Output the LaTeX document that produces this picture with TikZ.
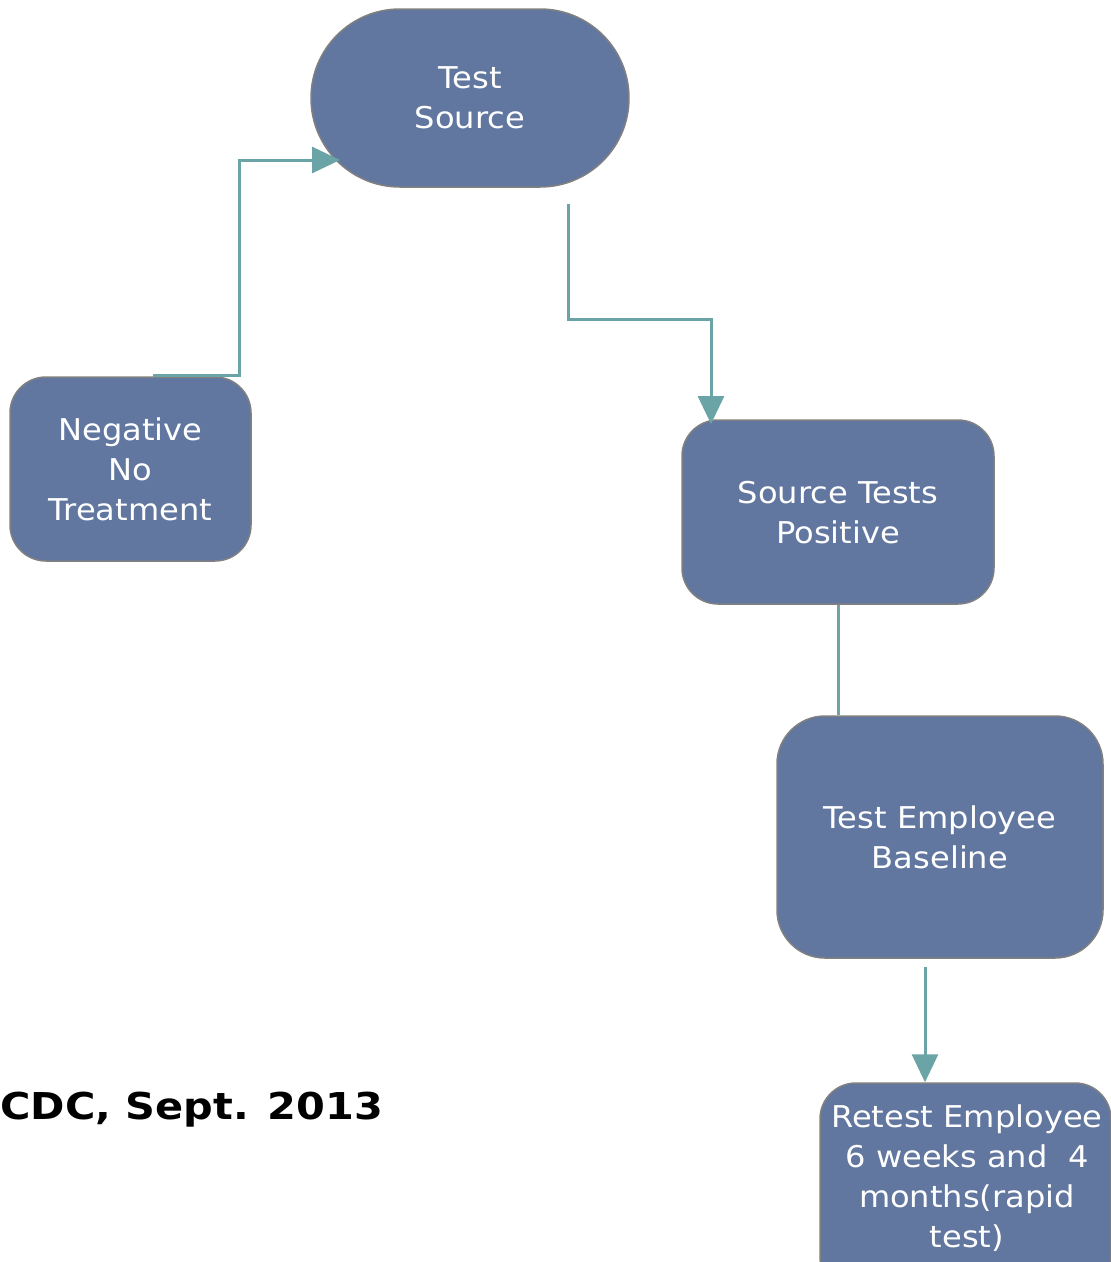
\documentclass[tikz,border=0pt]{standalone}
\usepackage{fontspec}
\setmainfont{DejaVu Sans}[FakeStretch=1.07]
\newfontfamily\cdcfont{DejaVu Sans Bold}[FakeStretch=1.12]
\usetikzlibrary{arrows.meta}
\definecolor{boxfill}{HTML}{6177A0}
\definecolor{boxline}{HTML}{808080}
\definecolor{conn}{HTML}{6AA4A6}
\tikzset{
  flowbox/.style={draw=boxline, line width=1.5pt, fill=boxfill, text=white,
    align=center, font=\fontsize{30}{40}\selectfont, inner sep=0pt},
  boxtext/.style={text=white, align=center, font=\fontsize{30}{40}\selectfont, inner sep=0pt},
  link/.style={draw=conn, line width=3pt},
  linkarrow/.style={link, -{Triangle[length=28pt,width=26pt]}},
}
\begin{document}
\begin{tikzpicture}[x=1pt,y=-1pt]
\useasboundingbox (0,0) rectangle (1111,1262);
\begin{scope}
\clip (0,0) rectangle (1111,1262);
% boxes
\node[flowbox, rounded corners=89pt, minimum width=318pt, minimum height=178pt, text depth=-2pt] (src) at (470,98) {Test\\Source};
\node[flowbox, rounded corners=36pt, minimum width=241pt, minimum height=184pt, text depth=-2pt] (neg) at (130.5,469) {Negative\\No\\Treatment};
\node[flowbox, rounded corners=36pt, minimum width=312pt, minimum height=184pt, text depth=-2pt] (pos) at (838,512) {Source Tests\\Positive};
\node[flowbox, rounded corners=48pt, minimum width=326pt, minimum height=242pt, text depth=-2pt] (base) at (940,837) {Test Employee\\Baseline};
\node[flowbox, rounded corners=36pt, minimum width=291pt, minimum height=210pt] (retest) at (965.5,1188) {};
\node[boxtext] (retesttext) at (967,1178) {Retest Employee\\6 weeks and\ \ 4\\months(rapid\\test)};
\end{scope}
% label
\node[anchor=west, inner sep=0pt, font=\fontsize{37}{44}\selectfont\cdcfont] (cdc) at (0,1110) {CDC, Sept. 2013};
% connectors
\coordinate (negtop) at (153,375);
\coordinate (srctip) at (340,160);
\draw[linkarrow] (negtop) -- (239,375) -- (239,160) -- (srctip);
\coordinate (srcout) at (568,204);
\coordinate (postip) at (711,424);
\draw[linkarrow] (srcout) -- (568,319) -- (711,319) -- (postip);
\draw[link] (pos.south) -- (pos.south |- base.north);
\coordinate (baseout) at (925,967);
\draw[linkarrow] (baseout) -- (retest.north -| baseout);
\end{tikzpicture}
\end{document}
